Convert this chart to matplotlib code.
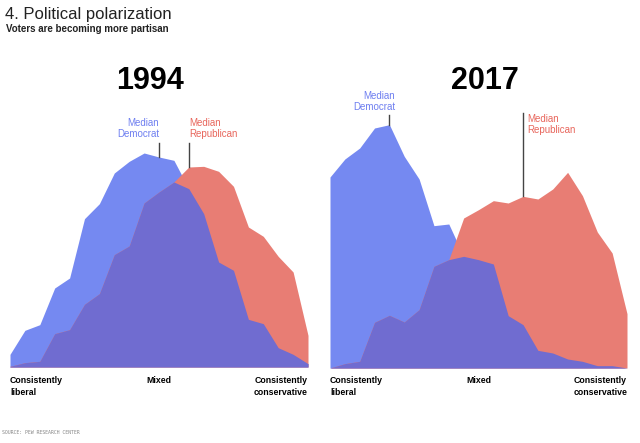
import matplotlib.pyplot as plt
import numpy as np

plt.rcParams['font.family'] = ['Liberation Sans', 'DejaVu Sans']

# share of voters along the ideological scale (arbitrary units)
dem_1994 = [38, 110, 127, 237, 267, 445, 490, 582, 617, 642, 630, 620, 535, 460,
            315, 290, 143, 130, 58, 38, 10]
rep_1994 = [2, 13, 17, 100, 112, 188, 220, 337, 363, 492, 525, 555, 600, 602,
            587, 542, 420, 392, 332, 285, 95]
dem_2017 = [573, 627, 660, 720, 730, 635, 567, 427, 432, 335, 325, 312, 157, 130,
            53, 45, 27, 20, 7, 7, 0]
rep_2017 = [0, 13, 20, 137, 158, 138, 175, 305, 325, 450, 475, 502, 495, 515,
            507, 537, 587, 517, 408, 345, 163]

years = ["1994", "2017"]
# median positions on the scale (index of point)
med_dem = [10, 4]
med_rep = [12, 13]

BLUE = "#7589F1"
RED = "#E87D74"
PURPLE = "#706CD0"

W, H = 640, 443
fig = plt.figure(figsize=(W / 100, H / 100), dpi=100)

panels = [(dem_1994, rep_1994, 10, 308, 367, 150),
          (dem_2017, rep_2017, 330, 627, 368, 485)]

for i, (dem, rep, x0, x1, base, year_x) in enumerate(panels):
    top = 60
    ax = fig.add_axes([x0 / W, (H - base) / H, (x1 - x0) / W, (base - top) / H])
    x = np.arange(len(dem))
    d = np.array(dem)
    r = np.array(rep)
    ax.fill_between(x, 0, d, color=BLUE, lw=0)
    ax.fill_between(x, 0, r, color=RED, lw=0)
    ax.fill_between(x, 0, np.minimum(d, r), color=PURPLE, lw=0)
    ax.set_xlim(0, 20)
    ax.set_ylim(0, (base - top) * 3)
    ax.axis('off')

    # median markers
    md, mr = med_dem[i], med_rep[i]
    if i == 0:
        dem_top, rep_top, dem_lbl_y, rep_lbl_y = 672, 672, 746, 746
        dem_lbl_x, rep_lbl_x = md, mr
    else:
        dem_top, rep_top, dem_lbl_y, rep_lbl_y = 759, 765, 831, 762
        dem_lbl_x, rep_lbl_x = md + 0.4, mr + 0.3
    ax.plot([md, md], [d[md], dem_top], color="#444444", lw=1)
    ax.plot([mr, mr], [r[mr], rep_top], color="#444444", lw=1)
    ax.text(dem_lbl_x, dem_lbl_y, "Median\nDemocrat", color="#6E7FF0", fontsize=7,
            ha='right', va='top', linespacing=1.1)
    ax.text(rep_lbl_x, rep_lbl_y, "Median\nRepublican", color="#E8665C", fontsize=7,
            ha='left', va='top', linespacing=1.1)

    # year heading
    fig.text(year_x / W, 1 - 81 / H, years[i],
             fontsize=22, fontweight='bold', ha='center', va='center')

    # axis labels
    ly = 1 - 376 / H
    fig.text(x0 / W, ly, "Consistently\nliberal", fontsize=6.3, fontweight='bold',
             ha='left', va='top', linespacing=1.45)
    fig.text((x0 + x1) / 2 / W, ly, "Mixed", fontsize=6.3, fontweight='bold',
             ha='center', va='top')
    fig.text(x1 / W, ly, "Consistently\nconservative", fontsize=6.3, fontweight='bold',
             ha='right', va='top', multialignment='right', linespacing=1.45)

fig.text(5 / W, 1 - 14 / H, "4. Political polarization", fontsize=12,
         ha='left', va='center', color="#222222")
fig.text(6 / W, 1 - 29 / H, "Voters are becoming more partisan", fontsize=7,
         fontweight='bold', ha='left', va='center', color="#222222")
fig.text(2 / W, 1 - 433 / H, "SOURCE: PEW RESEARCH CENTER", fontsize=3.5,
         family='DejaVu Sans Mono', color="#888888", ha='left', va='center')

fig.savefig("out.png", dpi=100, facecolor='white')
